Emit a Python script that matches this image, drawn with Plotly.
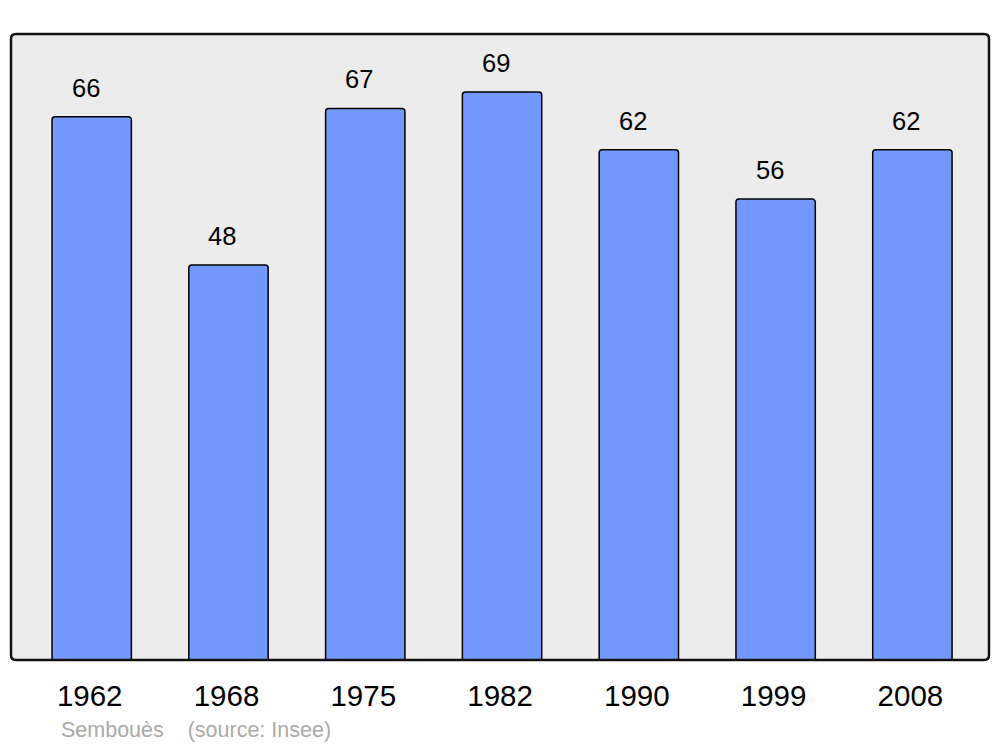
import plotly.graph_objects as go

years = ["1962", "1968", "1975", "1982", "1990", "1999", "2008"]
population = [66, 48, 67, 69, 62, 56, 62]
commune = "Sembouès"
source = "(source: Insee)"

W, H = 1000, 747
L, R, T, B = 11, 11, 34, 87
pw, ph = W - L - R, H - T - B

fig = go.Figure()
fig.add_trace(go.Bar(
    x=list(range(len(years))), y=population,
    width=0.58,
    marker=dict(color="#7399FF", line=dict(color="#000000", width=1.5), cornerradius=3),
    hoverinfo="skip",
))

for i, v in enumerate(population):
    fig.add_annotation(x=i, y=v, text=str(v), showarrow=False, yanchor="bottom",
                       xshift=-6, yshift=13,
                       font=dict(family="Liberation Sans, Arial", size=25.5, color="#000"))

# rounded plot-area frame
rx, ry = 5 / pw, 5 / ph
path = (f"M {rx},0 L {1-rx},0 Q 1,0 1,{ry} L 1,{1-ry} Q 1,1 {1-rx},1 "
        f"L {rx},1 Q 0,1 0,{1-ry} L 0,{ry} Q 0,0 {rx},0 Z")
fig.add_shape(type="path", xref="paper", yref="paper", path=path,
              line=dict(color="#111111", width=2.5), fillcolor="rgba(0,0,0,0)", layer="above")
fig.add_shape(type="path", xref="paper", yref="paper", path=path,
              line=dict(width=0), fillcolor="#ECECEC", layer="below")

fig.add_annotation(xref="paper", yref="paper", x=(59 - L) / pw, y=(660 - 730) / ph,
                   xanchor="left", yanchor="middle", showarrow=False,
                   text=f"{commune}&nbsp;&nbsp;&nbsp;&nbsp;{source}",
                   font=dict(family="Liberation Sans, Arial", size=21.5, color="#AAAAAA"))

fig.update_layout(
    width=W, height=H,
    margin=dict(l=L, r=R, t=T, b=B),
    paper_bgcolor="#FFFFFF", plot_bgcolor="rgba(0,0,0,0)",
    showlegend=False,
    xaxis=dict(range=[-0.59, 6.56], tickmode="array", tickvals=list(range(len(years))),
               ticktext=years, showgrid=False, zeroline=False, ticks="",
               ticklabelstandoff=15, ticklabelshift=-2,
               tickfont=dict(family="Liberation Sans, Arial", size=29.5, color="#000")),
    yaxis=dict(range=[0, 76.05], showgrid=False, zeroline=False, showticklabels=False, ticks=""),
)

fig.write_html("out.html", config={"displayModeBar": False},
               post_script="document.body.style.margin='0';document.body.style.overflow='hidden';")
